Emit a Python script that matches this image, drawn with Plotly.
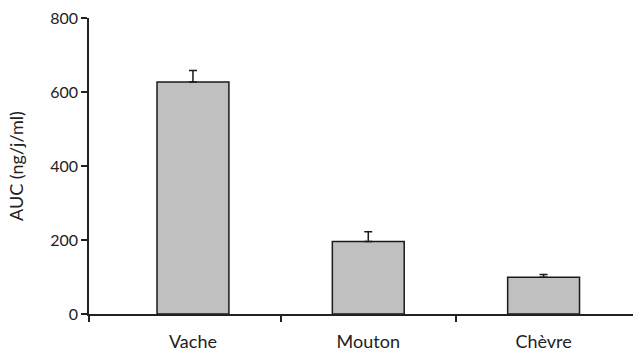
import plotly.graph_objects as go

categories = ["Vache", "Mouton", "Chèvre"]
auc_values = [627, 196, 99]
auc_errors = [31, 26, 8]
y_ticks = [0, 200, 400, 600, 800]

positions = list(range(len(categories)))
boundaries = [-0.593, 0.5, 1.5]

font_family = "Lato"

fig = go.Figure()
fig.add_trace(go.Bar(
    x=positions,
    y=auc_values,
    width=0.41,
    marker=dict(color="#c0c0c0", line=dict(color="#1a1a1a", width=1.5)),
    error_y=dict(type="data", array=auc_errors, arrayminus=[0] * len(auc_errors),
                 symmetric=False, color="#1a1a1a", thickness=1.5, width=4),
    showlegend=False,
))
# invisible trace to activate the secondary x axis (tick marks at boundaries)
fig.add_trace(go.Scatter(x=[boundaries[0]], y=[0], xaxis="x2", mode="markers",
                         marker=dict(opacity=0), showlegend=False, hoverinfo="skip"))

fig.update_layout(
    width=633, height=358,
    margin=dict(l=89, r=0, t=18, b=44),
    plot_bgcolor="white", paper_bgcolor="white",
    font=dict(family=font_family, color="#222222", size=16),
    xaxis=dict(
        range=[-0.593, 2.51],
        tickmode="array", tickvals=positions, ticktext=categories,
        ticks="", showline=True, linecolor="#222222", linewidth=1.5,
        showgrid=False, zeroline=False, fixedrange=True,
        tickfont=dict(size=18), ticklabelstandoff=11,
    ),
    xaxis2=dict(
        overlaying="x", side="bottom", range=[-0.593, 2.51],
        tickmode="array", tickvals=boundaries, showticklabels=False,
        ticks="outside", ticklen=7, tickwidth=1.5, tickcolor="#222222",
        showline=False, showgrid=False, zeroline=False,
    ),
    yaxis=dict(
        range=[0, 800], tickmode="array", tickvals=y_ticks,
        ticks="outside", ticklen=6, tickwidth=1.5, tickcolor="#222222",
        showline=True, linecolor="#222222", linewidth=1.5,
        showgrid=False, zeroline=False,
        tickfont=dict(size=16),
        title=dict(text="AUC (ng/j/ml)", font=dict(size=18), standoff=22),
    ),
)

fig.write_html("out.html")
